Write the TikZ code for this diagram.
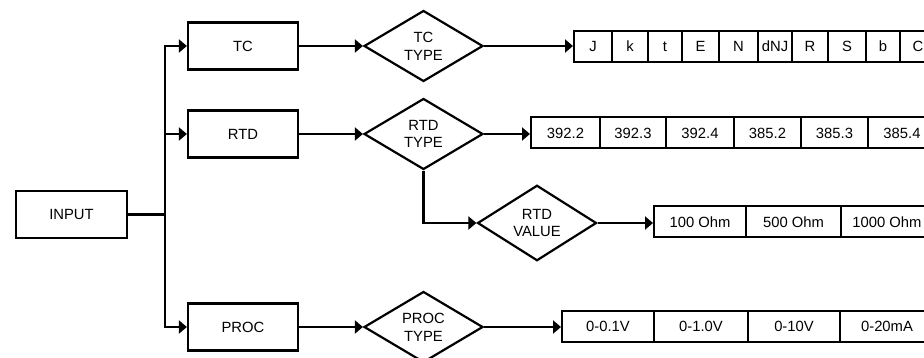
\documentclass[tikz,border=0pt]{standalone}
\usepackage{fontspec}
\setmainfont{Liberation Sans}
\usetikzlibrary{shapes.geometric,arrows.meta}
\tikzset{
  box/.style={draw, line width=2.2pt, minimum width=110pt, minimum height=47pt, inner sep=0pt, font=\fontsize{14.8}{17.7}\selectfont},
  dia/.style={draw, diamond, line width=2.2pt, minimum width=119pt, minimum height=71pt, inner sep=0pt, align=center, font=\fontsize{14.8}{17.7}\selectfont},
  cell/.style={draw, line width=2pt, minimum height=31pt, inner sep=0pt, font=\fontsize{14.8}{17.7}\selectfont},
  conn/.style={line width=2.2pt, -{Triangle[length=8pt,width=13pt]}},
  plain/.style={line width=2.2pt}
}
\begin{document}
\begin{tikzpicture}[x=1pt,y=-1pt]
\useasboundingbox (0,0) rectangle (924,358);
\clip (0,0) rectangle (924,358);
% main boxes
\node[box, minimum width=111pt] (input) at (71.5,214.5) {INPUT};
\node[box] (tcbox) at (243,46) {TC};
\node[box] (rtdbox) at (243,134) {RTD};
\node[box] (procbox) at (243,327) {PROC};
\coordinate (trunk) at (165,214.5);
% diamonds
\node[dia] (tctype) at (423.5,46) {TC\\TYPE};
\node[dia] (rtdtype) at (423.5,134) {RTD\\TYPE};
\node[dia] (rtdvalue) at (537,223) {RTD\\VALUE};
\node[dia] (proctype) at (423.5,327) {PROC\\TYPE};
% TC list
\foreach \n/\a/\b/\t in {1/574/612/J, 2/612/648/k, 3/648/682/t, 4/682/719/E, 5/719/758/N, 6/758/792/dNJ, 7/792/828/R, 8/828/866/S, 9/866/900/b, 10/900/936/C}{
  \node[cell, minimum width=\b-\a] (listA-\n) at ({(\a+\b)/2},46.5) {\t};
}
% RTD type list
\foreach \n/\a/\b/\t in {1/531/600/392.2, 2/600/666/392.3, 3/666/734/392.4, 4/734/801/385.2, 5/801/868/385.3, 6/868/936/385.4}{
  \node[cell, minimum width=\b-\a] (listB-\n) at ({(\a+\b)/2},133) {\t};
}
% RTD value list
\foreach \n/\a/\b/\t in {1/654/746/100 Ohm, 2/746/841/500 Ohm, 3/841/933/1000 Ohm}{
  \node[cell, minimum width=\b-\a] (listC-\n) at ({(\a+\b)/2},222) {\t};
}
% PROC list
\foreach \n/\a/\b/\t in {1/562/654/0-0.1V, 2/654/748/0-1.0V, 3/748/840/0-10V, 4/840/934/0-20mA}{
  \node[cell, minimum width=\b-\a] (listD-\n) at ({(\a+\b)/2},326.5) {\t};
}
% connectors
\draw[plain] (input) -- (trunk);
\draw[conn] (trunk) |- (tcbox);
\draw[conn] (trunk) |- (rtdbox);
\draw[conn] (trunk) |- (procbox);
\draw[conn] (tcbox) -- (tctype);
\draw[conn] (rtdbox) -- (rtdtype);
\draw[conn] (procbox) -- (proctype);
\draw[conn] (tctype) -- (tctype.east -| listA-1.west);
\draw[conn] (rtdtype) -- (rtdtype.east -| listB-1.west);
\draw[conn] (rtdtype.south) |- (rtdvalue.west);
\draw[conn] (rtdvalue) -- (rtdvalue.east -| listC-1.west);
\draw[conn] (proctype) -- (proctype.east -| listD-1.west);
\end{tikzpicture}
\end{document}
